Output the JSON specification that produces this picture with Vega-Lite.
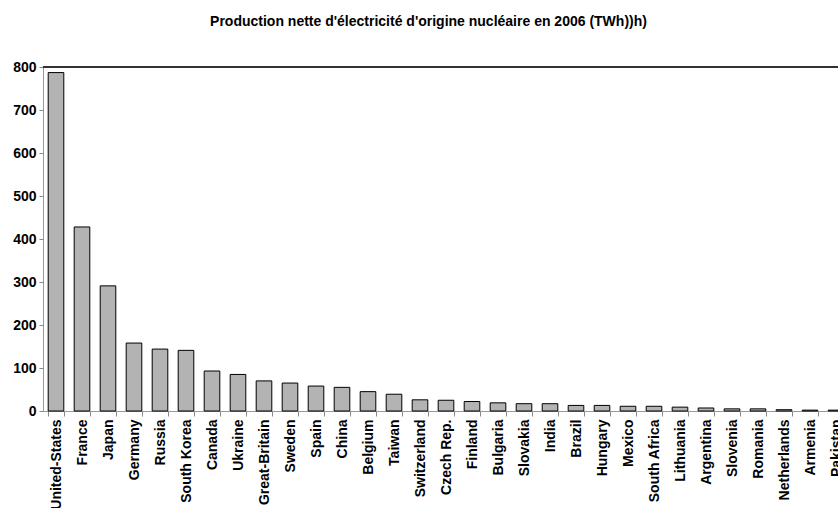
{
  "$schema": "https://vega.github.io/schema/vega-lite/v6.json",
  "autosize": {"type": "none"},
  "width": 795,
  "height": 344,
  "padding": {"left": 43, "top": 67, "right": 0, "bottom": 97},
  "background": "white",
  "title": {
    "text": "Production nette d'électricité d'origine nucléaire en 2006  (TWh))h)",
    "font": "Liberation Sans",
    "fontSize": 14,
    "fontWeight": "bold",
    "color": "black",
    "anchor": "middle",
    "frame": "group",
    "offset": 31,
    "dx": -12
  },
  "config": {
    "view": {"stroke": null},
    "axis": {
      "labelFont": "Liberation Sans",
      "labelFontWeight": "bold",
      "labelColor": "black",
      "domainColor": "#999999",
      "tickColor": "#888888",
      "grid": false,
      "title": null
    }
  },
  "data": {
    "values": [
      {"country": "United-States", "twh": 787},
      {"country": "France", "twh": 428},
      {"country": "Japan", "twh": 291},
      {"country": "Germany", "twh": 158},
      {"country": "Russia", "twh": 144},
      {"country": "South Korea", "twh": 141},
      {"country": "Canada", "twh": 93},
      {"country": "Ukraine", "twh": 85},
      {"country": "Great-Britain", "twh": 70},
      {"country": "Sweden", "twh": 65},
      {"country": "Spain", "twh": 58},
      {"country": "China", "twh": 55},
      {"country": "Belgium", "twh": 45},
      {"country": "Taiwan", "twh": 39},
      {"country": "Switzerland", "twh": 26},
      {"country": "Czech Rep.", "twh": 25},
      {"country": "Finland", "twh": 22},
      {"country": "Bulgaria", "twh": 19},
      {"country": "Slovakia", "twh": 17},
      {"country": "India", "twh": 17},
      {"country": "Brazil", "twh": 13},
      {"country": "Hungary", "twh": 13},
      {"country": "Mexico", "twh": 11},
      {"country": "South  Africa", "twh": 11},
      {"country": "Lithuania", "twh": 9},
      {"country": "Argentina", "twh": 7},
      {"country": "Slovenia", "twh": 5},
      {"country": "Romania", "twh": 5},
      {"country": "Netherlands", "twh": 3},
      {"country": "Armenia", "twh": 2},
      {"country": "Pakistan", "twh": 2}
    ]
  },
  "layer": [
    {
      "mark": {"type": "bar", "fill": "#b3b3b3", "stroke": "black", "strokeWidth": 1},
      "encoding": {
        "x": {
          "field": "country",
          "type": "nominal",
          "sort": null,
          "scale": {"range": [0, 806], "paddingInner": 0.4, "paddingOuter": 0.2},
          "axis": {
            "labelAngle": -90,
            "labelAlign": "right",
            "labelBaseline": "middle",
            "labelFontSize": 14,
            "labelPadding": 3,
            "tickSize": 5,
            "tickBand": "extent"
          }
        },
        "y": {
          "field": "twh",
          "type": "quantitative",
          "scale": {"domain": [0, 800], "nice": false},
          "axis": {
            "values": [0, 100, 200, 300, 400, 500, 600, 700, 800],
            "labelFontSize": 14,
            "tickSize": 4,
            "labelPadding": 3
          }
        }
      }
    },
    {
      "mark": {"type": "rule", "color": "#333333", "strokeWidth": 1},
      "encoding": {"y": {"datum": 800}}
    }
  ]
}
